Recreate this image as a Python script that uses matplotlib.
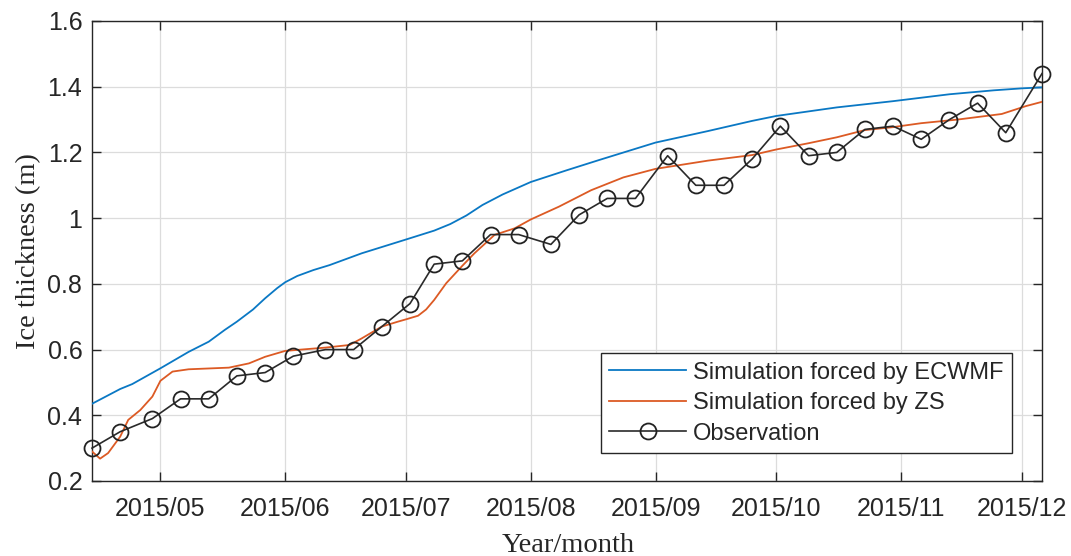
import matplotlib
matplotlib.use("Agg")
import matplotlib.pyplot as plt
import matplotlib.dates as mdates
import numpy as np
import pandas as pd

# ---- data ----
obs_dates = ["2015-04-14", "2015-04-21", "2015-04-29", "2015-05-06", "2015-05-13",
             "2015-05-20", "2015-05-27", "2015-06-03", "2015-06-11", "2015-06-18",
             "2015-06-25", "2015-07-02", "2015-07-08", "2015-07-15", "2015-07-22",
             "2015-07-29", "2015-08-06", "2015-08-13", "2015-08-20", "2015-08-27",
             "2015-09-04", "2015-09-11", "2015-09-18", "2015-09-25", "2015-10-02",
             "2015-10-09", "2015-10-16", "2015-10-23", "2015-10-30", "2015-11-06",
             "2015-11-13", "2015-11-20", "2015-11-27", "2015-12-06"]
obs_values = [0.30, 0.35, 0.39, 0.45, 0.45, 0.52, 0.53, 0.58, 0.60, 0.60,
              0.67, 0.74, 0.86, 0.87, 0.95, 0.95, 0.92, 1.01, 1.06, 1.06,
              1.19, 1.10, 1.10, 1.18, 1.28, 1.19, 1.20, 1.27, 1.28, 1.24,
              1.30, 1.35, 1.26, 1.44]

ecmwf_dates = ["2015-04-14", "2015-04-21", "2015-04-24", "2015-05-01", "2015-05-08",
               "2015-05-13", "2015-05-17", "2015-05-20", "2015-05-24", "2015-05-27",
               "2015-05-30", "2015-06-01", "2015-06-04", "2015-06-08", "2015-06-12",
               "2015-06-20", "2015-07-01", "2015-07-08", "2015-07-12", "2015-07-16",
               "2015-07-20", "2015-07-25", "2015-08-01", "2015-08-10", "2015-08-18",
               "2015-09-01", "2015-09-14", "2015-09-25", "2015-10-01", "2015-10-16",
               "2015-10-30", "2015-11-13", "2015-11-24", "2015-12-01", "2015-12-06"]
ecmwf_values = [0.435, 0.480, 0.495, 0.543, 0.593, 0.624, 0.660, 0.685, 0.722, 0.756,
                0.787, 0.805, 0.824, 0.842, 0.857, 0.893, 0.935, 0.962, 0.982, 1.008,
                1.040, 1.072, 1.110, 1.146, 1.177, 1.230, 1.265, 1.296, 1.311, 1.337,
                1.356, 1.377, 1.389, 1.395, 1.398]

zs_dates = ["2015-04-14", "2015-04-16", "2015-04-18", "2015-04-21", "2015-04-23",
            "2015-04-26", "2015-04-29", "2015-05-01", "2015-05-04", "2015-05-08",
            "2015-05-18", "2015-05-23", "2015-05-27", "2015-06-01", "2015-06-11",
            "2015-06-17", "2015-06-20", "2015-06-25", "2015-06-29", "2015-07-01",
            "2015-07-04", "2015-07-06", "2015-07-08", "2015-07-11", "2015-07-15",
            "2015-07-18", "2015-07-23", "2015-07-28", "2015-08-01", "2015-08-08",
            "2015-08-16", "2015-08-24", "2015-09-01", "2015-09-14", "2015-09-25",
            "2015-10-01", "2015-10-09", "2015-10-16", "2015-10-23", "2015-10-30",
            "2015-11-06", "2015-11-15", "2015-11-26", "2015-12-02", "2015-12-06"]
zs_values = [0.290, 0.268, 0.285, 0.335, 0.386, 0.416, 0.457, 0.505, 0.533, 0.540,
             0.545, 0.558, 0.578, 0.596, 0.606, 0.614, 0.634, 0.670, 0.685, 0.692,
             0.703, 0.722, 0.751, 0.802, 0.855, 0.893, 0.949, 0.969, 0.996, 1.035,
             1.085, 1.124, 1.150, 1.175, 1.192, 1.209, 1.228, 1.246, 1.268, 1.277,
             1.289, 1.300, 1.317, 1.341, 1.354]

labels = ["Simulation forced by ECWMF", "Simulation forced by ZS", "Observation"]
y_ticks = [0.2, 0.4, 0.6, 0.8, 1.0, 1.2, 1.4, 1.6]
y_ticklabels = ["0.2", "0.4", "0.6", "0.8", "1", "1.2", "1.4", "1.6"]

# ---- plot ----
sans = ["Liberation Sans", "DejaVu Sans"]
serif = ["Liberation Serif", "DejaVu Serif"]

fig = plt.figure(figsize=(10.71, 5.56), dpi=100)
ax = fig.add_axes([92 / 1071, 1 - 481 / 556, 950 / 1071, 460 / 556])

od = pd.to_datetime(obs_dates)
ed = pd.to_datetime(ecmwf_dates)
zd = pd.to_datetime(zs_dates)

ax.plot(ed, ecmwf_values, color="#0a78c4", lw=1.3, label=labels[0], zorder=3,
        solid_joinstyle="round")
ax.plot(zd, zs_values, color="#dc5a24", lw=1.3, label=labels[1], zorder=3,
        solid_joinstyle="round")
ax.plot(od, obs_values, color="#2a2a2a", lw=1.2, marker="o", ms=11.5,
        mfc="none", mec="#222222", mew=1.3, label=labels[2], zorder=4, clip_on=False)

ax.set_xlim(od[0], od[-1])
ax.set_ylim(0.2, 1.6)
ax.set_yticks(y_ticks)
ax.set_yticklabels(y_ticklabels)
ax.xaxis.set_major_locator(mdates.MonthLocator(bymonth=range(5, 13)))
ax.xaxis.set_major_formatter(mdates.DateFormatter("%Y/%m"))

ax.grid(True, color="#dcdcdc", lw=0.9)
ax.set_axisbelow(True)
for s in ax.spines.values():
    s.set_color("#262626")
    s.set_linewidth(1.0)
ax.tick_params(direction="in", length=6.5, width=1.0, color="#262626",
               top=True, right=True, labelsize=18, labelcolor="#262626")
ax.tick_params(axis="x", pad=11.5)
ax.tick_params(axis="y", pad=7)
for t in ax.get_xticklabels() + ax.get_yticklabels():
    t.set_family(sans)

ax.set_ylabel("Ice thickness (m)", family=serif, fontsize=20.5, color="#262626")
ax.set_xlabel("Year/month", family=serif, fontsize=20.5, color="#262626")
ax.yaxis.set_label_coords(-0.0537, 0.5)
ax.xaxis.set_label_coords(0.501, -0.112)

leg = ax.legend(loc="lower right", bbox_to_anchor=(0.9684, 0.0609), borderaxespad=0,
                prop={"family": sans, "size": 17}, fancybox=False, framealpha=1,
                edgecolor="#262626", handlelength=3.26, handletextpad=0.3,
                labelspacing=0.36, borderpad=0.35)
leg.get_frame().set_linewidth(1.0)
for t in leg.get_texts():
    t.set_color("#262626")

fig.savefig("out.png", dpi=100)
